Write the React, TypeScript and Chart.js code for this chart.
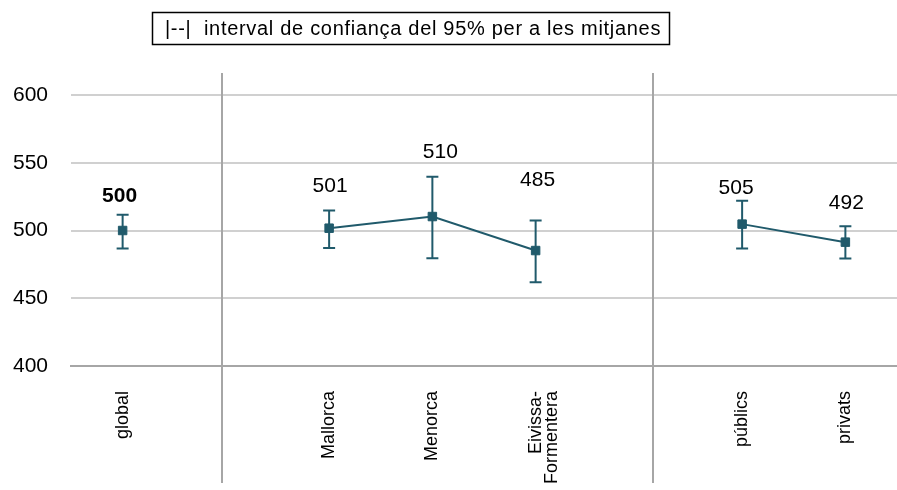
import { useEffect, useRef } from "react";
import { Chart, registerables } from "chart.js";

Chart.register(...registerables);

// ---- data ----
const categories: (string | string[])[] = ["global", "", "Mallorca", "Menorca", ["Eivissa-", "Formentera"], "", "públics", "privats"];
const means: (number | null)[] = [500, null, 501.7, 510.3, 485.2, null, 504.7, 491.4];
const ciLow: (number | null)[] = [486.7, null, 487, 479.6, 461.9, null, 486.7, 479.3];
const ciHigh: (number | null)[] = [511.6, null, 514.8, 539.6, 507.4, null, 521.9, 503.2];
const valueLabels = ["500", "", "501", "510", "485", "", "505", "492"];
const boldLabels = [true, false, false, false, false, false, false, false];
const yTicks = [400, 450, 500, 550, 600];
const legendText = "|--|  interval de confiança del 95% per a les mitjanes";

// ---- styling / placement ----
const FONT = "'Liberation Sans', Arial, sans-serif";
const TEAL = "#205a6b";
const GRID = "#d0d0d0";
const AXIS = "#a6a6a6";
const labelDy = [34, 0, 42, 64, 70, 0, 36, 39];
const labelDx = [-3, 0, 1, 8, 2, 0, -6, 1];
const separatorAt = [0.962, 5.137];

const overlayPlugin = {
  id: "overlay",
  beforeDatasetsDraw(chart: any) {
    const { ctx, chartArea, scales } = chart;
    const xs = scales.x;
    const ys = scales.y;
    ctx.save();
    // separators
    ctx.strokeStyle = AXIS;
    ctx.lineWidth = 2;
    separatorAt.forEach((v) => {
      const x = Math.round(xs.getPixelForValue(v));
      ctx.beginPath();
      ctx.moveTo(x, chartArea.top - 22);
      ctx.lineTo(x, chart.height - 7);
      ctx.stroke();
    });
    // error bars
    ctx.strokeStyle = TEAL;
    ctx.lineWidth = 2;
    means.forEach((m, i) => {
      const lo = ciLow[i];
      const hi = ciHigh[i];
      if (m === null || lo === null || hi === null) return;
      const x = xs.getPixelForValue(i);
      const yl = ys.getPixelForValue(lo);
      const yh = ys.getPixelForValue(hi);
      ctx.beginPath();
      ctx.moveTo(x, yl);
      ctx.lineTo(x, yh);
      ctx.moveTo(x - 6, yl);
      ctx.lineTo(x + 6, yl);
      ctx.moveTo(x - 6, yh);
      ctx.lineTo(x + 6, yh);
      ctx.stroke();
    });
    ctx.restore();
  },
  afterDatasetsDraw(chart: any) {
    const { ctx, scales } = chart;
    const xs = scales.x;
    const ys = scales.y;
    ctx.save();
    ctx.fillStyle = "#000";
    ctx.textAlign = "center";
    ctx.textBaseline = "middle";
    means.forEach((m, i) => {
      if (m === null || !valueLabels[i]) return;
      ctx.font = `${boldLabels[i] ? "bold " : ""}21px ${FONT}`;
      const x = xs.getPixelForValue(i) + labelDx[i];
      const y = ys.getPixelForValue(m) - labelDy[i];
      ctx.fillText(valueLabels[i], x, y);
    });
    ctx.restore();
  },
  afterDraw(chart: any) {
    const { ctx } = chart;
    ctx.save();
    ctx.strokeStyle = "#000";
    ctx.lineWidth = 1.5;
    ctx.strokeRect(152.5, 12.5, 517, 32);
    ctx.fillStyle = "#000";
    ctx.font = `20px ${FONT}`;
    try {
      (ctx as any).letterSpacing = "0.7px";
    } catch (e) {}
    ctx.textAlign = "center";
    ctx.textBaseline = "middle";
    ctx.fillText(legendText, 413, 29);
    ctx.restore();
  },
};

export default function App() {
  const ref = useRef<HTMLCanvasElement | null>(null);
  useEffect(() => {
    if (!ref.current) return;
    const chart = new Chart(ref.current, {
      type: "line",
      data: {
        labels: categories as any,
        datasets: [
          {
            data: means,
            borderColor: TEAL,
            backgroundColor: TEAL,
            borderWidth: 2,
            pointStyle: "rect",
            pointRadius: 6,
            pointBorderWidth: 1,
            spanGaps: false,
            tension: 0,
          },
        ],
      },
      options: {
        animation: false,
        responsive: false,
        maintainAspectRatio: false,
        layout: { autoPadding: false, padding: { top: 95, left: 0, right: 0, bottom: 0 } },
        plugins: {
          legend: { display: false },
          tooltip: { enabled: false },
          title: { display: false },
        },
        scales: {
          x: {
            type: "category",
            offset: true,
            grid: { display: false, drawTicks: false },
            border: { display: true, color: AXIS, width: 2 },
            ticks: {
              autoSkip: false,
              maxRotation: 90,
              minRotation: 90,
              padding: 25,
              color: "#000",
              font: { family: FONT, size: 18, lineHeight: 0.9 },
            },
            afterFit: (s: any) => {
              s.height = 124;
              s.paddingLeft = 0;
              s.paddingRight = 0;
            },
          },
          y: {
            min: 400,
            max: 600,
            afterBuildTicks: (s: any) => {
              s.ticks = yTicks.map((v) => ({ value: v }));
            },
            grid: {
              drawTicks: false,
              color: (c: any) => (c.tick && c.tick.value === 400 ? AXIS : GRID),
              lineWidth: 2,
            },
            border: { display: false },
            ticks: {
              padding: 23,
              color: "#000",
              font: { family: FONT, size: 21 },
            },
            afterFit: (s: any) => {
              s.width = 71;
            },
          },
        },
      },
      plugins: [overlayPlugin],
    });
    return () => chart.destroy();
  }, []);
  return (
    <div style={{ position: "absolute", left: 0, top: 0, width: 897, height: 490 }}>
      <canvas ref={ref} width={897} height={490} style={{ display: "block" }} />
    </div>
  );
}
